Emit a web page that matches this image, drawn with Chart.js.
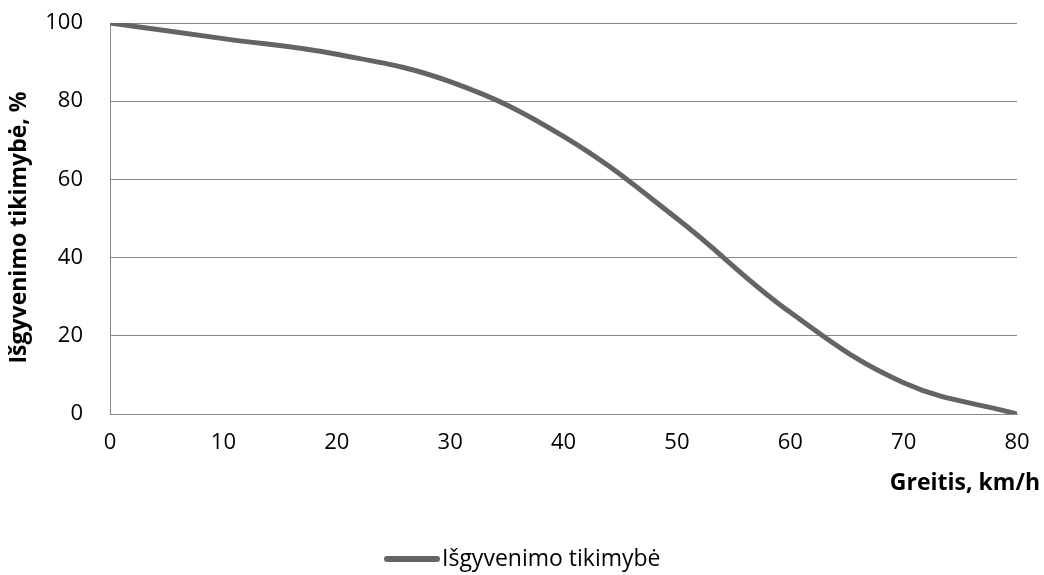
<!DOCTYPE html>
<html lang="lt">
<head>
<meta charset="utf-8">
<title>Išgyvenimo tikimybė</title>
<script src="https://cdn.jsdelivr.net/npm/chart.js@4/dist/chart.umd.min.js"></script>
<style>
  html, body { margin: 0; padding: 0; background: #ffffff; }
  #wrap { width: 1044px; height: 575px; position: relative; }
</style>
</head>
<body>
<div id="wrap"><canvas id="chart" width="1044" height="575"></canvas></div>
<script>
// Speed (km/h) and survival probability (%)
const speeds = [0, 10, 20, 30, 40, 50, 60, 70, 80];
const survival = [100, 96, 92, 85, 71, 50, 26, 8, 0];
const yTicks = [0, 20, 40, 60, 80, 100];
const seriesName = 'Išgyvenimo tikimybė';
const xTitle = 'Greitis, km/h';
const yTitle = 'Išgyvenimo tikimybė, %';

const FONT = '"Open Sans", "Liberation Sans", sans-serif';
const GRID = '#878787';
const LINE = '#646464';
const CLEAR = 'rgba(0,0,0,0)';

// Axis titles and the series key, placed relative to the plot area
const decorations = {
  id: 'decorations',
  afterDraw(chart) {
    const { ctx, chartArea } = chart;
    ctx.save();
    ctx.fillStyle = '#000';
    ctx.font = 'bold 23px ' + FONT;
    ctx.textAlign = 'right';
    ctx.textBaseline = 'middle';
    ctx.fillText(xTitle, chartArea.right + 23, chartArea.bottom + 69);

    ctx.save();
    ctx.translate(19, (chartArea.top + chartArea.bottom) / 2 + 9);
    ctx.rotate(-Math.PI / 2);
    ctx.textAlign = 'center';
    ctx.fillText(yTitle, 0, 0);
    ctx.restore();

    // series key
    const ds = chart.data.datasets[0];
    ctx.font = '23px ' + FONT;
    const tw = ctx.measureText(ds.label).width;
    const lineLen = 56, gap = 2;
    const total = lineLen + gap + tw;
    const x0 = Math.round(1044 / 2 - total / 2);
    const yc = 559;
    ctx.strokeStyle = ds.borderColor;
    ctx.lineWidth = 6;
    ctx.lineCap = 'round';
    ctx.beginPath();
    ctx.moveTo(x0 + 3, yc);
    ctx.lineTo(x0 + lineLen - 3, yc);
    ctx.stroke();
    ctx.textAlign = 'left';
    ctx.fillText(ds.label, x0 + lineLen + gap, yc);
    ctx.restore();
  }
};

new Chart(document.getElementById('chart'), {
  type: 'line',
  data: {
    datasets: [{
      label: seriesName,
      data: speeds.map((s, i) => ({ x: s, y: survival[i] })),
      borderColor: LINE,
      backgroundColor: LINE,
      borderWidth: 5,
      borderCapStyle: 'round',
      borderJoinStyle: 'round',
      pointRadius: 0,
      pointHoverRadius: 0,
      tension: 0.4,
      fill: false
    }]
  },
  options: {
    responsive: false,
    animation: false,
    events: [],
    layout: { padding: { left: 27, right: 27, top: 23, bottom: 0 } },
    plugins: {
      tooltip: { enabled: false },
      legend: { display: false }
    },
    scales: {
      x: {
        type: 'linear',
        min: 0,
        max: 80,
        afterBuildTicks(scale) { scale.ticks = speeds.map(v => ({ value: v })); },
        afterFit(scale) { scale.height = 161; },
        grid: { display: true, drawOnChartArea: false, drawTicks: true, tickLength: 13, tickColor: CLEAR, color: CLEAR },
        border: { display: true, color: GRID, width: 1 },
        ticks: {
          color: '#000',
          padding: 3,
          maxRotation: 0,
          font: { family: FONT, size: 22 }
        }
      },
      y: {
        min: 0,
        max: 100,
        afterBuildTicks(scale) { scale.ticks = yTicks.map(v => ({ value: v })); },
        afterFit(scale) { scale.width = 83; },
        grid: { color: GRID, lineWidth: 1, drawTicks: true, tickLength: 24, tickColor: CLEAR },
        border: { display: true, color: GRID, width: 1 },
        ticks: {
          color: '#000',
          padding: 3,
          font: { family: FONT, size: 22 }
        }
      }
    }
  },
  plugins: [decorations]
});
</script>
</body>
</html>
